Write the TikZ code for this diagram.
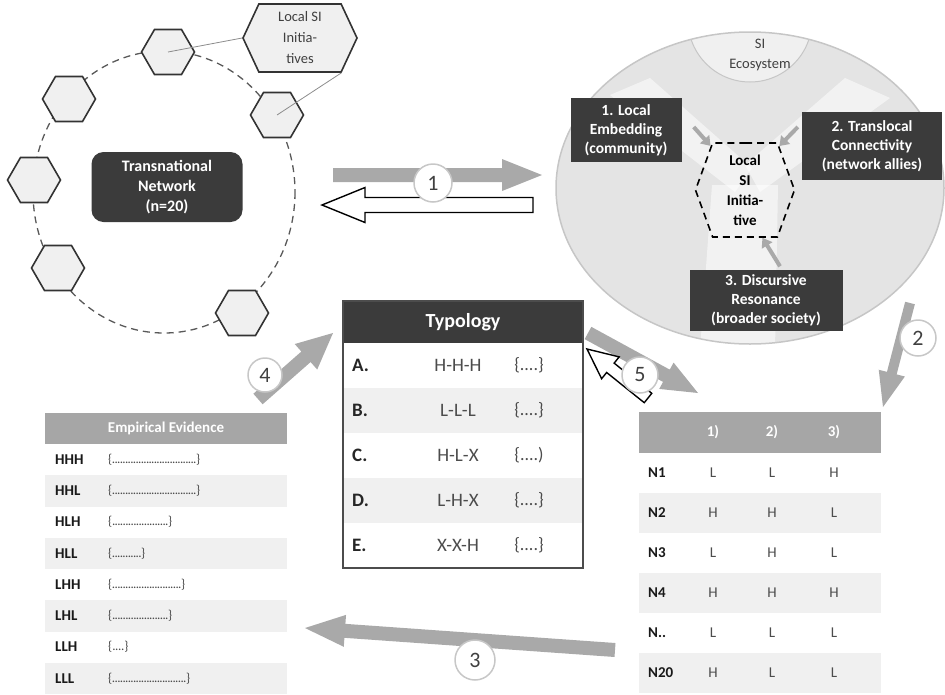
\documentclass[tikz,border=0pt]{standalone}
\usepackage{fontspec}
\setmainfont{Carlito}
\usetikzlibrary{calc,arrows.meta,shapes.symbols}

\definecolor{boxdark}{HTML}{3B3B3B}
\definecolor{headgray}{HTML}{A6A6A6}
\definecolor{rowgray}{HTML}{F0F0F0}
\definecolor{arrowgray}{HTML}{A9A9A9}
\definecolor{ecofill}{HTML}{E4E4E4}
\definecolor{ecoline}{HTML}{C6C6C6}

\newcommand{\blockarrow}[6]{%
  \coordinate (ab) at ($(#3)!#6!(#2)$);
  \path[#1] ($(#2)!#4!90:(#3)$) -- ($(ab)!#4!90:(#3)$) -- ($(ab)!#5!90:(#3)$)
    -- (#3) -- ($(ab)!#5!-90:(#3)$) -- ($(ab)!#4!-90:(#3)$) -- ($(#2)!#4!-90:(#3)$) -- cycle;
}
\newcommand{\dotrun}[1]{\{\hbox to #1{\xleaders\hbox to 2.6pt{\hss.\hss}\hfill}\}}
\newcommand{\brok}{\{.\kern0pt.\kern0pt.\kern0pt.\}}
\newcommand{\brodd}{\{.\kern0pt.\kern0pt.\kern0pt.)}
\newcommand{\nrest}{N.\kern0pt.}

\begin{document}
\begin{tikzpicture}[x=1pt, y=-1pt,
    hexa/.style={signal, signal to=east and west, signal pointer angle=120,
      draw=black!80, line width=1.6pt, fill=black!6, inner sep=0pt,
      minimum width=53pt, minimum height=45pt},
    darkbox/.style={rectangle, fill=boxdark, text=white, align=center, inner sep=2pt,
      font=\bfseries\fontsize{15.5}{19}\selectfont},
    numcirc/.style={circle, draw=black!22, line width=1.5pt, fill=white, inner sep=0pt,
      minimum size=38pt, text=black!75, font=\fontsize{22}{22}\selectfont},
    tabhead/.style={rectangle, text=white, inner sep=0pt, font=\bfseries\fontsize{15}{15}\selectfont},
    celltxt/.style={inner sep=0pt, text=black!70, font=\fontsize{15}{15}\selectfont},
    celllab/.style={inner sep=0pt, anchor=west, text=black!90, font=\bfseries\fontsize{15}{15}\selectfont},
    smallarr/.style={draw=arrowgray, line width=4pt, -{Triangle[length=9pt,width=12pt]}}]

  \useasboundingbox (0,0) rectangle (945,694);

  % transnational network
  \draw[black!65, line width=1.3pt, dash pattern=on 7pt off 5pt] (164,192) ellipse (131 and 141);
  \node[darkbox, rounded corners=12pt, minimum width=151pt, minimum height=70pt,
    font=\bfseries\fontsize{16}{20}\selectfont] (tn) at (167,187) {Transnational\\Network\\(n=20)};
  \foreach \hx/\hy [count=\i] in {168/52, 69/99, 34/180, 58/268, 242/313, 277/115}
    \node[hexa] (h\i) at (\hx,\hy) {};
  \node[hexa, minimum width=114pt, minimum height=68pt, signal pointer angle=130, align=center,
    text=black!75, font=\fontsize{14.5}{21}\selectfont] (lsi) at (300,38) {Local SI\\Initia-\\tives};
  \draw[black!45, line width=0.8pt] (lsi.west) -- (h1.center);
  \draw[black!45, line width=0.8pt] (lsi.-40) -- (h6.center);

  % SI ecosystem
  \fill[ecofill] (750,188) ellipse (194 and 156);
  \begin{scope}
    \clip (750,188) ellipse (194 and 156);
    \fill[white, opacity=.55] (610,95) -- (650,78) -- (752,168) -- (735,192) -- cycle;
    \fill[white, opacity=.55] (845,78) -- (890,98) -- (760,192) -- (745,165) -- cycle;
    \fill[white, opacity=.55] (712,185) -- (778,185) -- (775,350) -- (700,350) -- cycle;
    \draw[ecoline, fill=black!6, line width=1pt] (750,20) circle (62);
  \end{scope}
  \draw[ecoline, line width=1.5pt] (750,188) ellipse (194 and 156);
  \node[align=center, text=black!75, font=\fontsize{14.5}{20}\selectfont] (eco) at (760,55) {SI\\Ecosystem};
  \node[hexa, minimum width=99pt, minimum height=94pt, signal pointer angle=140, fill=none,
    draw=black, dash pattern=on 7pt off 5pt, align=center,
    font=\bfseries\fontsize{15}{20}\selectfont] (core) at (745,190) {Local\\SI\\Initia-\\tive};
  \node[darkbox, minimum width=111pt, minimum height=64pt] (emb) at (626,130) {1. Local\\Embedding\\(community)};
  \node[darkbox, minimum width=140pt, minimum height=68pt] (trans) at (872,146) {2. Translocal\\Connectivity\\(network allies)};
  \node[darkbox, minimum width=153pt, minimum height=61pt] (disc) at (766,300) {3. Discursive\\Resonance\\(broader society)};
  \draw[smallarr] ($(emb.east)+(12,-3)$) -- (core.128);
  \draw[smallarr] ($(trans.west)+(-4,-19)$) -- (core.52);
  \draw[smallarr] ($(disc.north)+(14,-3)$) -- (core.-70);

  % typology
  \node[tabhead, fill=boxdark, minimum width=240pt, minimum height=42pt,
    font=\bfseries\fontsize{20}{20}\selectfont] (typ) at (463,322) {Typology};
  \foreach \lt/\pat/\br [count=\i] in {A./H-H-H/\brok, B./L-L-L/\brok, C./H-L-X/\brodd,
      D./L-H-X/\brok, E./X-X-H/\brok} {
    \ifodd\i\else \fill[rowgray] (344,{343+45*(\i-1)}) rectangle (582,{343+45*\i}); \fi
    \node[celllab, text=black!85, font=\bfseries\fontsize{19}{19}\selectfont] (typ-\i-a) at (352,{343+45*(\i-0.5)}) {\lt};
    \node[celltxt, font=\fontsize{19}{19}\selectfont] (typ-\i-b) at (458,{343+45*(\i-0.5)}) {\pat};
    \node[celltxt, font=\fontsize{18}{18}\selectfont] (typ-\i-c) at (529,{343+45*(\i-0.5)}) {\br};
  }
  \draw[black!70, line width=1.2pt] (343,301) rectangle (583,568);

  % empirical evidence
  \node[tabhead, fill=headgray, minimum width=242pt, minimum height=31pt] (emp) at (166,428.5) {Empirical Evidence};
  \foreach \lt/\w [count=\i] in {HHH/84pt, HHL/84pt, HLH/56pt, HLL/29pt, LHH/69pt, LHL/56pt, LLH/12pt, LLL/74pt} {
    \ifodd\i\else \fill[rowgray] (45,{444+31.25*(\i-1)}) rectangle (287,{444+31.25*\i}); \fi
    \node[celllab] (emp-\i-a) at (55,{444+31.25*(\i-0.5)}) {\lt};
    \node[celltxt, anchor=west, font=\fontsize{13}{13}\selectfont] (emp-\i-b) at (108,{444+31.25*(\i-0.5)}) {\dotrun{\w}};
  }

  % network scores
  \node[tabhead, fill=headgray, minimum width=242pt, minimum height=41pt] (sc) at (760,432.5) {};
  \foreach \cx/\ct in {713/1), 772/2), 834/3)}
    \node[tabhead] at (\cx,432) {\ct};
  \foreach \lt/\va/\vb/\vc [count=\i] in {N1/L/L/H, N2/H/H/L, N3/L/H/L, N4/H/H/H, \nrest/L/L/L, N20/H/L/L} {
    \ifodd\i\else \fill[rowgray] (639,{453+40*(\i-1)}) rectangle (881,{453+40*\i}); \fi
    \node[celllab] (sc-\i-a) at (648,{453+40*(\i-0.5)}) {\lt};
    \node[celltxt] (sc-\i-b) at (713,{453+40*(\i-0.5)}) {\va};
    \node[celltxt] (sc-\i-c) at (772,{453+40*(\i-0.5)}) {\vb};
    \node[celltxt] (sc-\i-d) at (834,{453+40*(\i-0.5)}) {\vc};
  }

  % process arrows
  \coordinate (a1s) at (333,175); \coordinate (a1e) at (542,175);
  \blockarrow{fill=arrowgray}{a1s}{a1e}{7pt}{16pt}{40pt}
  \coordinate (b1s) at (533,205); \coordinate (b1e) at (322,205);
  \blockarrow{fill=white, draw=black, line width=1.4pt}{b1s}{b1e}{7.5pt}{17.5pt}{43pt}
  \node[numcirc] (c1) at (433,183) {1};

  \coordinate (a2s) at (910,303); \coordinate (a2e) at (883,407);
  \blockarrow{fill=arrowgray}{a2s}{a2e}{5pt}{13.5pt}{35pt}
  \node[numcirc, minimum size=36pt] (c2) at (918,338) {2};

  \coordinate (a3s) at (615,650); \coordinate (a3e) at (305,628);
  \blockarrow{fill=arrowgray}{a3s}{a3e}{7pt}{16pt}{40pt}
  \node[numcirc, minimum size=40pt] (c3) at (475,660) {3};

  \coordinate (a4s) at (258,399); \coordinate (a4e) at (333,333);
  \blockarrow{fill=arrowgray}{a4s}{a4e}{7pt}{17pt}{36pt}
  \node[numcirc, minimum size=34pt] (c4) at (265,375) {4};

  \coordinate (a5s) at (588,333); \coordinate (a5e) at (698,393);
  \blockarrow{fill=arrowgray}{a5s}{a5e}{7pt}{15pt}{36pt}
  \coordinate (b5s) at (648,398); \coordinate (b5e) at (587,349);
  \blockarrow{fill=white, draw=black, line width=1.4pt}{b5s}{b5e}{6pt}{14pt}{30pt}
  \node[numcirc, minimum size=36pt] (c5) at (640,375) {5};
\end{tikzpicture}
\end{document}
